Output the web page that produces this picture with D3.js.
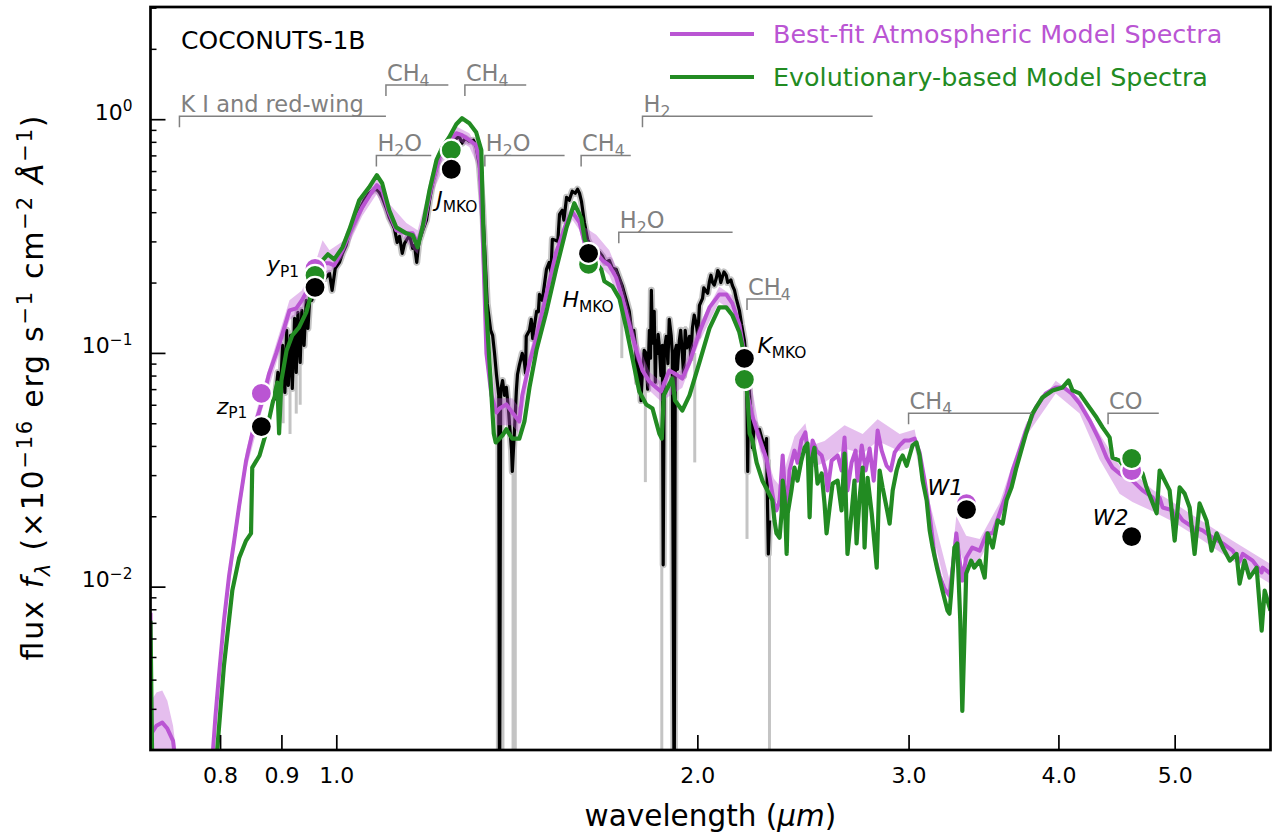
<!DOCTYPE html>
<html><head><meta charset="utf-8">
<script src="https://cdn.jsdelivr.net/npm/d3@7"></script>
<style>body{margin:0;background:#fff}svg{display:block}text{font-family:"DejaVu Sans",sans-serif}</style>
</head><body><svg id="c" width="1276" height="837"></svg>
<script>
// ---------------- DATA ----------------
// Evolutionary-based model spectrum [wavelength (um), flux]
const evoSpec=[[0.700,0.00715],[0.7025,0.0015],[0.794,0.0015],[0.795,0.0019],[0.806,0.00459],[0.819,0.00961],[0.830,0.0133],[0.841,0.01574],[0.849,0.0169],[0.851,0.0323],[0.863,0.0364],[0.875,0.0466],[0.884,0.0596],[0.893,0.0747],[0.896,0.0452],[0.900,0.0762],[0.909,0.1025],[0.919,0.1189],[0.931,0.1286],[0.944,0.1491],[0.954,0.1816],[0.962,0.219],[0.974,0.249],[0.984,0.2642],[0.996,0.2513],[1.012,0.283],[1.025,0.3346],[1.045,0.4499],[1.065,0.511],[1.081,0.5757],[1.092,0.532],[1.107,0.4076],[1.122,0.3445],[1.144,0.3248],[1.158,0.3185],[1.169,0.283],[1.180,0.3445],[1.196,0.4966],[1.212,0.6675],[1.226,0.7587],[1.242,0.8373],[1.259,0.952],[1.273,1.01],[1.291,0.961],[1.308,0.8796],[1.321,0.7368],[1.326,0.3445],[1.334,0.1506],[1.347,0.0658],[1.353,0.0452],[1.358,0.0414],[1.376,0.0444],[1.386,0.0471],[1.402,0.0430],[1.421,0.0430],[1.435,0.0509],[1.449,0.0712],[1.469,0.1035],[1.497,0.1506],[1.525,0.2278],[1.556,0.3445],[1.579,0.4368],[1.601,0.3767],[1.611,0.3062],[1.635,0.2538],[1.663,0.2278],[1.673,0.2024],[1.699,0.1926],[1.722,0.1711],[1.745,0.1274],[1.765,0.0957],[1.789,0.0684],[1.813,0.0602],[1.835,0.0578],[1.859,0.0452],[1.868,0.0430],[1.875,0.0658],[1.906,0.0777],[1.916,0.0626],[1.943,0.0567],[1.970,0.0658],[2.008,0.0911],[2.047,0.1274],[2.086,0.1566],[2.114,0.1566],[2.139,0.1448],[2.168,0.1225],[2.189,0.0976],[2.203,0.0626],[2.211,0.0452],[2.223,0.0422],[2.241,0.0339],[2.266,0.0284],[2.288,0.0258],[2.310,0.0234],[2.319,0.0192],[2.328,0.0169],[2.342,0.0162],[2.351,0.0206],[2.356,0.0284],[2.365,0.0241],[2.374,0.0138],[2.379,0.0206],[2.396,0.0258],[2.410,0.0323],[2.424,0.0284],[2.442,0.0346],[2.457,0.0393],[2.471,0.0410],[2.481,0.0198],[2.490,0.0346],[2.504,0.0393],[2.519,0.0276],[2.539,0.0305],[2.553,0.0227],[2.563,0.0169],[2.578,0.0218],[2.593,0.0276],[2.618,0.0284],[2.638,0.0212],[2.653,0.0371],[2.668,0.0138],[2.689,0.0206],[2.704,0.0284],[2.715,0.0153],[2.731,0.0241],[2.747,0.0323],[2.757,0.0147],[2.773,0.0292],[2.795,0.0206],[2.822,0.01206],[2.838,0.0314],[2.854,0.0266],[2.876,0.0218],[2.893,0.0186],[2.910,0.0258],[2.932,0.0314],[2.949,0.0346],[2.966,0.0364],[2.989,0.0329],[3.006,0.0364],[3.023,0.0402],[3.046,0.0414],[3.064,0.0364],[3.082,0.0284],[3.106,0.0234],[3.124,0.0174],[3.142,0.0147],[3.172,0.01171],[3.202,0.00961],[3.233,0.00789],[3.245,0.00766],[3.257,0.00961],[3.276,0.0147],[3.294,0.0153],[3.313,0.00715],[3.326,0.00294],[3.339,0.00587],[3.351,0.01137],[3.383,0.01292],[3.403,0.01206],[3.439,0.01292],[3.472,0.01093],[3.492,0.0169],[3.526,0.0147],[3.560,0.0192],[3.594,0.0186],[3.621,0.0234],[3.656,0.0266],[3.690,0.0323],[3.724,0.0382],[3.759,0.0452],[3.805,0.0550],[3.879,0.0645],[3.955,0.0691],[4.032,0.0712],[4.079,0.0762],[4.110,0.0691],[4.166,0.0671],[4.222,0.0608],[4.304,0.0529],[4.354,0.0480],[4.413,0.0435],[4.438,0.0356],[4.498,0.0346],[4.541,0.0323],[4.611,0.0346],[4.701,0.0305],[4.737,0.0266],[4.830,0.0206],[4.858,0.0314],[4.952,0.0258],[5.000,0.01574],[5.048,0.0266],[5.097,0.0250],[5.146,0.0218],[5.195,0.0138],[5.245,0.0227],[5.315,0.0192],[5.367,0.01426],[5.420,0.0169],[5.484,0.0147],[5.558,0.01292],[5.631,0.0138],[5.664,0.0103],[5.718,0.01292],[5.773,0.01093],[5.852,0.01206],[5.909,0.00648],[5.943,0.00961],[6.01,0.00789]];

// Best-fit atmospheric model spectrum [wavelength, flux]
const atmSpec=[[0.700,0.00774],[0.701,0.00235],[0.708,0.00254],[0.716,0.00262],[0.723,0.00247],[0.731,0.00219],[0.737,0.0015],[0.786,0.0015],[0.793,0.00280],[0.798,0.00408],[0.806,0.00715],[0.814,0.01115],[0.822,0.01574],[0.830,0.0223],[0.841,0.0346],[0.851,0.0452],[0.868,0.0626],[0.879,0.0816],[0.891,0.0995],[0.902,0.1213],[0.914,0.1521],[0.926,0.1551],[0.936,0.1678],[0.949,0.1908],[0.962,0.219],[0.974,0.2416],[0.987,0.2416],[0.996,0.2369],[1.012,0.2748],[1.031,0.3445],[1.051,0.4197],[1.069,0.4821],[1.081,0.5217],[1.092,0.4966],[1.107,0.3957],[1.122,0.3346],[1.144,0.3248],[1.158,0.3248],[1.169,0.2943],[1.184,0.3586],[1.200,0.511],[1.219,0.6873],[1.233,0.7587],[1.259,0.8709],[1.273,0.8539],[1.291,0.8131],[1.308,0.774],[1.316,0.6675],[1.324,0.3445],[1.334,0.0995],[1.347,0.0658],[1.360,0.0556],[1.368,0.0578],[1.386,0.0602],[1.402,0.0556],[1.421,0.0509],[1.429,0.0658],[1.449,0.0911],[1.469,0.1176],[1.497,0.178],[1.525,0.2694],[1.556,0.3622],[1.574,0.3997],[1.595,0.3622],[1.611,0.2943],[1.647,0.2694],[1.667,0.2489],[1.689,0.2369],[1.711,0.2105],[1.732,0.1711],[1.755,0.1325],[1.778,0.1035],[1.800,0.0841],[1.824,0.0755],[1.848,0.0712],[1.865,0.0684],[1.895,0.0841],[1.921,0.0808],[1.943,0.0777],[1.970,0.0911],[2.008,0.1225],[2.047,0.1566],[2.086,0.178],[2.114,0.178],[2.139,0.1629],[2.168,0.1325],[2.189,0.0995],[2.203,0.0658],[2.223,0.0535],[2.253,0.0430],[2.285,0.0349],[2.306,0.0263],[2.319,0.0223],[2.328,0.0212],[2.342,0.0234],[2.356,0.0364],[2.374,0.0192],[2.387,0.0314],[2.410,0.0382],[2.424,0.0339],[2.442,0.0422],[2.461,0.0457],[2.481,0.0314],[2.495,0.0422],[2.514,0.0382],[2.539,0.0364],[2.558,0.0314],[2.568,0.0258],[2.588,0.0346],[2.618,0.0364],[2.638,0.0314],[2.653,0.0435],[2.668,0.0258],[2.689,0.0339],[2.710,0.0382],[2.720,0.0284],[2.742,0.0402],[2.763,0.0314],[2.784,0.0390],[2.806,0.0284],[2.827,0.0466],[2.849,0.0382],[2.876,0.0329],[2.899,0.0314],[2.921,0.0375],[2.949,0.0402],[2.977,0.0422],[3.006,0.0422],[3.035,0.0430],[3.064,0.0375],[3.094,0.0284],[3.124,0.0202],[3.154,0.01358],[3.184,0.01115],[3.214,0.0098],[3.245,0.00915],[3.270,0.01292],[3.288,0.0169],[3.309,0.01292],[3.326,0.01061],[3.351,0.0133],[3.390,0.0147],[3.439,0.01426],[3.485,0.0169],[3.526,0.0169],[3.573,0.0206],[3.621,0.0250],[3.663,0.0314],[3.712,0.0382],[3.759,0.0466],[3.830,0.0584],[3.904,0.0671],[3.979,0.0712],[4.040,0.0712],[4.102,0.0671],[4.166,0.0608],[4.247,0.0514],[4.329,0.0422],[4.388,0.0356],[4.438,0.0323],[4.498,0.0305],[4.559,0.0292],[4.611,0.0284],[4.701,0.0258],[4.793,0.0241],[4.830,0.0222],[4.858,0.0240],[4.886,0.0218],[4.980,0.0212],[5.000,0.0190],[5.030,0.0205],[5.077,0.0192],[5.175,0.0180],[5.195,0.0160],[5.220,0.0178],[5.275,0.0174],[5.378,0.0162],[5.484,0.0153],[5.589,0.01426],[5.664,0.0128],[5.698,0.0138],[5.807,0.01292],[5.909,0.0115],[5.920,0.01206],[6.01,0.01137]];

// Atmospheric model uncertainty band [wavelength, low, high]
const atmBand=[[0.700,0.00648,0.00871],[0.701,0.0015,0.00325],[0.708,0.0015,0.00352],[0.716,0.0015,0.00359],[0.723,0.0015,0.00325],[0.731,0.0015,0.00254],[0.740,0.0015,0.0015],[0.786,0.0015,0.0015],[0.793,0.00254,0.00309],[0.806,0.00648,0.00789],[0.822,0.01426,0.0174],[0.841,0.0314,0.0382],[0.867,0.0567,0.0691],[0.891,0.0901,0.1098],[0.914,0.138,0.168],[0.936,0.152,0.185],[0.962,0.198,0.249],[0.974,0.219,0.3032],[0.987,0.219,0.275],[1.012,0.255,0.30],[1.051,0.385,0.46],[1.081,0.48,0.565],[1.107,0.36,0.435],[1.144,0.30,0.36],[1.169,0.265,0.335],[1.200,0.47,0.55],[1.259,0.82,0.93],[1.291,0.76,0.87],[1.316,0.61,0.73],[1.334,0.087,0.115],[1.360,0.049,0.064],[1.402,0.049,0.064],[1.421,0.045,0.058],[1.449,0.083,0.10],[1.497,0.163,0.195],[1.556,0.335,0.39],[1.574,0.37,0.43],[1.595,0.335,0.40],[1.611,0.27,0.3445],[1.647,0.245,0.32],[1.689,0.215,0.275],[1.732,0.155,0.20],[1.778,0.094,0.115],[1.824,0.069,0.083],[1.865,0.062,0.075],[1.943,0.071,0.085],[2.008,0.112,0.133],[2.086,0.165,0.192],[2.139,0.15,0.176],[2.189,0.091,0.108],[2.253,0.039,0.047],[2.316,0.024,0.029],[2.342,0.022,0.027],[2.410,0.036,0.044],[2.461,0.040,0.050],[2.481,0.032,0.040],[2.553,0.034,0.042],[2.653,0.039,0.049],[2.747,0.037,0.045],[2.827,0.042,0.052],[2.949,0.038,0.045],[3.035,0.040,0.047],[3.124,0.019,0.023],[3.245,0.0085,0.0107],[3.288,0.0155,0.020],[3.351,0.012,0.0165],[3.439,0.013,0.016],[3.573,0.019,0.0228],[3.759,0.044,0.05],[3.979,0.067,0.076],[4.166,0.055,0.064],[4.329,0.035,0.045],[4.498,0.025,0.033],[4.611,0.023,0.031],[4.793,0.021,0.026],[4.980,0.019,0.023],[5.275,0.0158,0.019],[5.589,0.0129,0.0157],[6.01,0.0103,0.0125]];

// Observed spectrum [wavelength, flux]
const obsSpec=[[0.889,0.0626],[0.894,0.0825],[0.898,0.0658],[0.902,0.1077],[0.906,0.0677],[0.909,0.1249],[0.912,0.0726],[0.916,0.1189],[0.919,0.0705],[0.923,0.1405],[0.926,0.0825],[0.929,0.1491],[0.933,0.0911],[0.936,0.1521],[0.940,0.1077],[0.944,0.1678],[0.947,0.1274],[0.951,0.1816],[0.954,0.1678],[0.960,0.1908],[0.964,0.2044],[0.968,0.1852],[0.974,0.2256],[0.979,0.2085],[0.987,0.219],[0.992,0.1852],[0.998,0.2301],[1.006,0.2440],[1.012,0.2668],[1.019,0.2886],[1.025,0.3248],[1.035,0.3622],[1.045,0.4076],[1.055,0.4499],[1.065,0.4821],[1.073,0.4966],[1.080,0.5015],[1.086,0.4869],[1.092,0.4634],[1.101,0.4156],[1.107,0.3801],[1.114,0.3552],[1.118,0.3412],[1.124,0.2973],[1.129,0.3154],[1.135,0.2668],[1.140,0.2943],[1.144,0.3032],[1.151,0.3185],[1.158,0.2803],[1.162,0.2886],[1.167,0.2440],[1.171,0.2886],[1.173,0.3032],[1.182,0.3412],[1.189,0.3694],[1.196,0.4499],[1.203,0.5318],[1.212,0.617],[1.219,0.688],[1.231,0.744],[1.242,0.789],[1.254,0.8131],[1.266,0.846],[1.273,0.789],[1.281,0.829],[1.291,0.805],[1.301,0.8131],[1.308,0.766],[1.316,0.635],[1.324,0.4282],[1.331,0.2489],[1.336,0.1629],[1.345,0.1249],[1.350,0.1189],[1.355,0.0995],[1.360,0.0808],[1.366,0.0658],[1.368,0.001],[1.371,0.0691],[1.376,0.0762],[1.381,0.0658],[1.386,0.0712],[1.392,0.0567],[1.394,0.0509],[1.400,0.0382],[1.402,0.0311],[1.408,0.0471],[1.413,0.0691],[1.416,0.0808],[1.421,0.0884],[1.429,0.0995],[1.435,0.0911],[1.438,0.082],[1.440,0.1177],[1.449,0.1249],[1.454,0.1391],[1.458,0.115],[1.463,0.1312],[1.469,0.1506],[1.474,0.150],[1.477,0.178],[1.485,0.1678],[1.490,0.190],[1.497,0.2278],[1.505,0.2440],[1.510,0.222],[1.514,0.3062],[1.523,0.3032],[1.530,0.300],[1.535,0.3918],[1.543,0.4076],[1.548,0.370],[1.556,0.4634],[1.564,0.4499],[1.573,0.4917],[1.582,0.4821],[1.589,0.5015],[1.595,0.4821],[1.601,0.4455],[1.610,0.3622],[1.620,0.3062],[1.629,0.2886],[1.642,0.2748],[1.657,0.2694],[1.667,0.2590],[1.676,0.2440],[1.689,0.2489],[1.699,0.2301],[1.711,0.2278],[1.722,0.2085],[1.732,0.1926],[1.745,0.1678],[1.755,0.1506],[1.765,0.1177],[1.770,0.125],[1.776,0.1077],[1.783,0.075],[1.789,0.0911],[1.795,0.0625],[1.800,0.0841],[1.803,0.093],[1.806,0.1025],[1.813,0.0995],[1.818,0.070],[1.824,0.1249],[1.828,0.095],[1.831,0.1852],[1.835,0.110],[1.838,0.1378],[1.841,0.1506],[1.845,0.075],[1.848,0.1131],[1.852,0.0995],[1.855,0.120],[1.859,0.1077],[1.865,0.080],[1.870,0.1077],[1.873,0.0124],[1.877,0.1025],[1.884,0.1177],[1.890,0.090],[1.895,0.1391],[1.902,0.1189],[1.906,0.0995],[1.913,0.001],[1.917,0.1025],[1.921,0.1077],[1.925,0.085],[1.932,0.1131],[1.937,0.125],[1.943,0.0995],[1.948,0.080],[1.954,0.1249],[1.960,0.105],[1.970,0.1177],[1.975,0.095],[1.981,0.1274],[1.988,0.145],[1.996,0.1325],[2.002,0.118],[2.008,0.1597],[2.020,0.1711],[2.025,0.190],[2.031,0.1852],[2.040,0.180],[2.047,0.2024],[2.053,0.215],[2.059,0.2004],[2.066,0.195],[2.075,0.2106],[2.080,0.225],[2.086,0.219],[2.092,0.200],[2.098,0.2106],[2.105,0.222],[2.114,0.2148],[2.120,0.200],[2.127,0.2024],[2.133,0.205],[2.139,0.1946],[2.148,0.185],[2.155,0.1711],[2.168,0.1521],[2.177,0.1325],[2.189,0.1131],[2.198,0.0911],[2.203,0.0311],[2.207,0.0762],[2.211,0.0658],[2.219,0.0514],[2.223,0.0393],[2.232,0.0499],[2.241,0.0466],[2.253,0.0471],[2.266,0.0422],[2.275,0.0382],[2.284,0.0430],[2.288,0.0234],[2.292,0.0138],[2.297,0.0192]];

// Observed-spectrum uncertainty excursions [wavelength, low, high]
const obsErrSpikes=[[0.903,0.05,0.11],[0.915,0.045,0.125],[0.926,0.055,0.14],[0.933,0.06,0.15],[1.377,0.001,0.075],[1.404,0.001,0.05],[1.410,0.001,0.045],[1.73,0.095,0.2],[1.776,0.08,0.12],[1.81,0.028,0.09],[1.868,0.001,0.11],[1.955,0.08,0.13],[1.99,0.034,0.1],[2.20,0.016,0.07],[2.297,0.001,0.035]];

// Photometry
const photNames=["z_{P1}","y_{P1}","J_{MKO}","H_{MKO}","K_{MKO}","W1","W2"];
const photWave=[0.866,0.960,1.247,1.623,2.189,3.353,4.604];
const obsPhot=[0.0484,0.1908,0.6106,0.2668,0.0947,0.02137,0.01637];
const atmPhot=[0.0671,0.2301,null,null,null,0.02267,0.03139];
const evoPhot=[null,0.2148,0.737,0.2393,0.0770,null,0.03533];

// Spectral features
const featNames=["K I and red-wing","CH_{4}","CH_{4}","H_{2}O","H_{2}O","CH_{4}","H_{2}","H_{2}O","CH_{4}","CH_{4}","CO"];
const featStart=[0.74,1.10,1.28,1.08,1.33,1.60,1.80,1.72,2.20,3.00,4.40];
const featEnd=[1.10,1.24,1.44,1.20,1.55,1.76,2.80,2.14,2.35,3.80,4.85];
const featLevel=[1.03,1.40,1.40,0.70,0.70,0.70,1.03,0.328,0.170,0.0552,0.0552];

const xTicks=[0.8,0.9,1.0,2.0,3.0,4.0,5.0];
const yMajor=[0.01,0.1,1];
const legendLabels=["Best-fit Atmospheric Model Spectra","Evolutionary-based Model Spectra"];
const objectName="COCONUTS-1B";

// ---------------- DRAW ----------------
const PURPLE="#ba55d3", GREEN="#228b22";
const svg=d3.select("#c");
const L=150.5,R=1270.5,T=7,B=750;
const x=d3.scaleLog().domain([0.7,6.01]).range([L,R]);
const y=d3.scaleLog().domain([0.002,3.02]).range([B,T]);
const Y=v=>y(Math.max(v,1e-4));

svg.append("defs").append("clipPath").attr("id","pc").append("rect")
  .attr("x",L).attr("y",T).attr("width",R-L).attr("height",B-T);
const plot=svg.append("g").attr("clip-path","url(#pc)");

function segsOf(str){const out=[];const re=/_\{([^}]*)\}|\^\{([^}]*)\}|([^_^]+)/g;let m;
  while((m=re.exec(str))){if(m[1]!==undefined)out.push({t:m[1],sub:true});else if(m[2]!==undefined)out.push({t:m[2],sup:true});else out.push({t:m[3]});}return out;}
function addRich(t,segs,size){let cur=0;segs.forEach(s=>{const sh=s.sup?-0.38*size:s.sub?0.22*size:0;
  const ts=t.append("tspan").text(s.t).attr("dy",sh-cur);cur=sh;
  if(s.sup||s.sub)ts.attr("font-size",(0.7*size).toFixed(1));
  if(s.it)ts.attr("font-style","italic");else ts.attr("font-style","normal");});}

const line=d3.line().x(d=>x(d[0])).y(d=>Y(d[1]));
// observed error halo and spikes
plot.append("path").attr("d",line(obsSpec)).attr("fill","none").attr("stroke","#c4c4c4").attr("stroke-width",7).attr("stroke-linejoin","round");
plot.selectAll(".es").data(obsErrSpikes).enter().append("line")
  .attr("x1",d=>x(d[0])).attr("x2",d=>x(d[0])).attr("y1",d=>Y(d[1])).attr("y2",d=>Y(d[2]))
  .attr("stroke","#c4c4c4").attr("stroke-width",3);
// observed spectrum
plot.append("path").attr("d",line(obsSpec)).attr("fill","none").attr("stroke","#000").attr("stroke-width",3.2).attr("stroke-linejoin","round");
// atm band
const area=d3.area().x(d=>x(d[0])).y0(d=>Y(d[1])).y1(d=>Y(d[2]));
plot.append("path").attr("d",area(atmBand)).attr("fill",PURPLE).attr("fill-opacity",0.38);
// atm line
plot.append("path").attr("d",line(atmSpec)).attr("fill","none").attr("stroke",PURPLE).attr("stroke-width",4).attr("stroke-linejoin","round");
// evo line
plot.append("path").attr("d",line(evoSpec)).attr("fill","none").attr("stroke",GREEN).attr("stroke-width",4.2).attr("stroke-linejoin","round");

// feature annotations
const fg=svg.append("g");
featNames.forEach((n,i)=>{
  const x0=x(featStart[i]),x1=x(featEnd[i]),yy=y(featLevel[i]);
  fg.append("path").attr("d",`M${x0},${yy+11}V${yy}H${x1}`).attr("fill","none").attr("stroke","#808080").attr("stroke-width",1.5);
  const t=fg.append("text").attr("x",x0+1).attr("y",yy-4).attr("font-size",22.5).attr("fill","#808080");
  addRich(t,segsOf(n),22.5);
});

// photometry dots
function dots(vals,color){
  const d=photWave.map((w,i)=>[w,vals[i]]).filter(p=>p[1]!=null);
  svg.append("g").selectAll("circle").data(d).enter().append("circle")
    .attr("cx",p=>x(p[0])).attr("cy",p=>y(p[1])).attr("r",10.5)
    .attr("fill",color).attr("stroke","#fff").attr("stroke-width",2.2);
}
dots(atmPhot,PURPLE);dots(evoPhot,GREEN);dots(obsPhot,"#000");

// photometry labels (offsets from observed point)
const labOff=[[-14,-13,"end"],[-16,-15,"end"],[-15,38,"start"],[-26,54,"start"],[13,-5,"start"],[-39,-15,"start"],[-39,-12,"start"]];
photNames.forEach((n,i)=>{
  const px=x(photWave[i]),py=y(obsPhot[i]);
  const t=svg.append("text").attr("x",px+labOff[i][0]).attr("y",py+labOff[i][1]).attr("font-size",22).attr("text-anchor",labOff[i][2]);
  const s=segsOf(n); s[0].it=true; addRich(t,s,22);
});

// axes
const xAxis=d3.axisBottom(x).tickValues(xTicks).tickSize(-15).tickPadding(17.5).tickFormat(d3.format(".1f"));
const gx=svg.append("g").attr("transform",`translate(0,${B})`).call(xAxis);
gx.select(".domain").remove();
gx.selectAll("line").attr("stroke-width",1.7);
gx.selectAll("text").attr("font-size",22).attr("font-family","DejaVu Sans").attr("fill","#000");

const minor=[];[0.001,0.01,0.1,1].forEach(dec=>{for(let k=2;k<=9;k++){const v=dec*k;if(v>0.002&&v<3.02&&yMajor.indexOf(v)<0)minor.push(v);}});
const gyMin=svg.append("g").attr("transform",`translate(${L},0)`).call(d3.axisLeft(y).tickValues(minor).tickSize(-6).tickFormat(""));
gyMin.select(".domain").remove();gyMin.selectAll("line").attr("stroke-width",1.5);
const gy=svg.append("g").attr("transform",`translate(${L},0)`).call(d3.axisLeft(y).tickValues(yMajor).tickSize(-15).tickPadding(18).tickFormat(""));
gy.select(".domain").remove();gy.selectAll("line").attr("stroke-width",1.7);
gy.selectAll(".tick text").attr("font-size",22).attr("font-family","DejaVu Sans").attr("dy","0.41em").attr("fill","#000")
  .each(function(d){const e=Math.round(Math.log10(d));addRich(d3.select(this),segsOf("10^{"+(e<0?"\u2212"+(-e):e)+"}"),22);});

// frame
svg.append("rect").attr("x",L).attr("y",T).attr("width",R-L).attr("height",B-T).attr("fill","none").attr("stroke","#000").attr("stroke-width",2.7);

// axis labels
const xl=svg.append("text").attr("x",(L+R)/2).attr("y",826).attr("text-anchor","middle").attr("font-size",29.5);
addRich(xl,[{t:"wavelength ("},{t:"\u03bcm",it:true},{t:")"}],29.5);
const yl=svg.append("text").attr("transform","translate(43,388) rotate(-90)").attr("text-anchor","middle").attr("font-size",30)
  .attr("textLength",545).attr("lengthAdjust","spacing");
addRich(yl,[{t:"flux "},{t:"f",it:true},{t:"\u03bb",it:true,sub:true},{t:" (\u00d710"},{t:"\u221216",sup:true},{t:" erg s"},{t:"\u22121",sup:true},{t:" cm"},{t:"\u22122",sup:true},{t:" "},{t:"\u00c5",it:true},{t:"\u22121",sup:true},{t:")"}],30);

// title & legend
svg.append("text").attr("x",181).attr("y",49).attr("font-size",25).text(objectName);
[PURPLE,GREEN].forEach((c,i)=>{
  const yy=34+i*43;
  svg.append("line").attr("x1",670).attr("x2",754).attr("y1",yy).attr("y2",yy).attr("stroke",c).attr("stroke-width",4);
  svg.append("text").attr("x",773).attr("y",yy+9).attr("font-size",25.4).attr("fill",c).text(legendLabels[i]);
});
</script></body></html>
